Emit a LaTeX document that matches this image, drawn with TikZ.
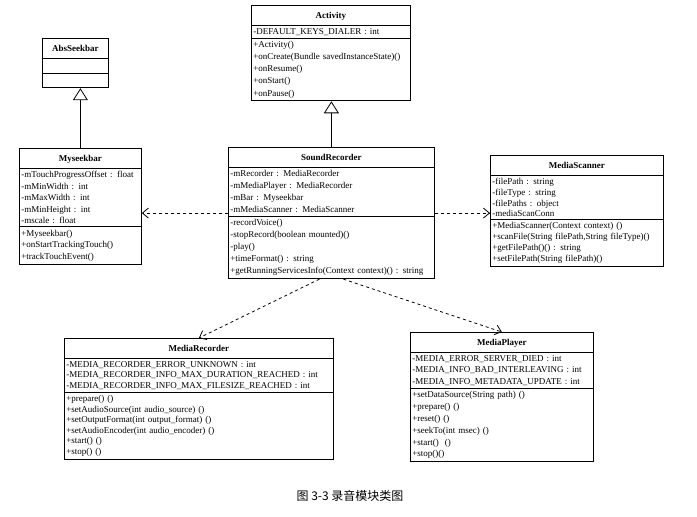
\documentclass[tikz,border=0pt]{standalone}
\usepackage{fontspec}
\setmainfont{Liberation Serif}
\newfontfamily\cjk{Noto Sans CJK SC}
\usetikzlibrary{arrows.meta}
\usetikzlibrary{shapes.multipart}
\usetikzlibrary{positioning}
\newcommand{\classname}[1]{\makebox[\hsize][c]{\rule[-4pt]{0pt}{14pt}\textbf{#1}}}

\begin{document}
\begin{tikzpicture}[
			x=1pt, y=-1pt,
			umlclass/.style={rectangle split, rectangle split parts=3, draw, thick,
				align=left, inner xsep=2pt, inner ysep=2.5pt, anchor=north west,
				font=\fontsize{9}{12.2}\selectfont},
			tight/.style={font=\fontsize{9}{#1}\selectfont},
			inherit/.style={thick, -{Triangle[open, length=12pt, width=15pt]}},
			uses/.style={thick, dashed, -{Straight Barb[length=6pt, width=10pt]}}
		]
		\useasboundingbox (0,0) rectangle (697,517);

		\node[umlclass, text width=155pt] (act) at (251,5) {\classname{Activity}
			\nodepart{two}-DEFAULT\_KEYS\_DIALER : int
			\nodepart{three}+Activity()\\+onCreate(Bundle savedInstanceState)()\\+onResume()\\+onStart()\\+onPause()};
		\node[umlclass, text width=62pt] (abs) at (42,38) {\classname{AbsSeekbar}
			\nodepart{two}\rule{0pt}{9pt}
			\nodepart{three}\rule{0pt}{9pt}};
		\node[umlclass, tight=11.6, text width=118pt] (seek) at (19,148) {\classname{Myseekbar}
			\nodepart{two}-mTouchProgressOffset : float\\-mMinWidth : int\\-mMaxWidth : int\\-mMinHeight : int\\-mscale : float
			\nodepart{three}+Myseekbar()\\+onStartTrackingTouch()\\+trackTouchEvent()};
		\node[umlclass, text width=202pt] (sr) at (228,147) {\classname{SoundRecorder}
			\nodepart{two}-mRecorder : MediaRecorder\\-mMediaPlayer : MediaRecorder\\-mBar : Myseekbar\\-mMediaScanner : MediaScanner
			\nodepart{three}-recordVoice()\\-stopRecord(boolean mounted)()\\-play()\\+timeFormat() : string\\+getRunningServicesInfo(Context context)() : string};
		\node[umlclass, tight=10.8, text width=169pt] (scan) at (490,155) {\classname{MediaScanner}
			\nodepart{two}-filePath : string\\-fileType : string\\-filePaths : object\\-mediaScanConn
			\nodepart{three}+MediaScanner(Context context) ()\\+scanFile(String filePath,String fileType)()\\+getFilePath()() : string\\+setFilePath(String filePath)()};
		\node[umlclass, tight=10.6, text width=265pt] (rec) at (64,338) {\classname{MediaRecorder}
			\nodepart{two}-MEDIA\_RECORDER\_ERROR\_UNKNOWN : int\\-MEDIA\_RECORDER\_INFO\_MAX\_DURATION\_REACHED : int\\-MEDIA\_RECORDER\_INFO\_MAX\_FILESIZE\_REACHED : int
			\nodepart{three}+prepare() ()\\+setAudioSource(int audio\_source) ()\\+setOutputFormat(int output\_format) ()\\+setAudioEncoder(int audio\_encoder) ()\\+start() ()\\+stop() ()};
		\node[umlclass, tight=11.8, text width=179pt] (play) at (410,332) {\classname{MediaPlayer}
			\nodepart{two}-MEDIA\_ERROR\_SERVER\_DIED : int\\-MEDIA\_INFO\_BAD\_INTERLEAVING : int\\-MEDIA\_INFO\_METADATA\_UPDATE : int
			\nodepart{three}+setDataSource(String path) ()\\+prepare() ()\\+reset() ()\\+seekTo(int msec) ()\\+start()\ \ ()\\+stop()()};

		\draw[inherit] (sr.north) -- (sr.north |- act.south);
		\draw[inherit] (seek.north) -- (seek.north |- abs.south);
		\draw[uses] (sr.west) -- (sr.west -| seek.east);
		\draw[uses] (sr.east) -- (sr.east -| scan.west);
		\draw[uses] ([xshift=-12pt]sr.south) -- (rec.north);
		\draw[uses] ([xshift=12pt]sr.south) -- (play.north);

		\node[font=\cjk\fontsize{12}{14}\selectfont] (caption) at (350,496) {图\ 3-3\ 录音模块类图};
	\end{tikzpicture}
\end{document}
